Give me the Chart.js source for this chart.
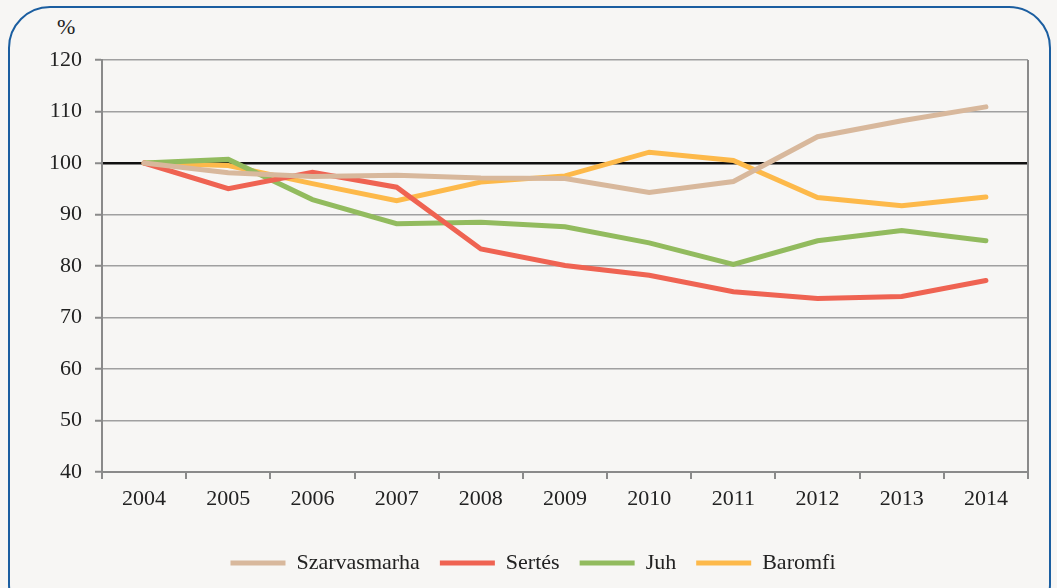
<!DOCTYPE html>
<html>
<head>
<meta charset="utf-8">
<script src="https://cdn.jsdelivr.net/npm/chart.js@4.4.1/dist/chart.umd.min.js"></script>
<style>
  html, body { margin: 0; padding: 0; background: #f7f6f4; }
  body { width: 1057px; height: 588px; position: relative; overflow: hidden; }
  .frame {
    position: absolute; left: 8px; top: 6px; width: 1043px; height: 620px;
    border: 2px solid #1b5ea0; border-radius: 42px; box-sizing: border-box;
  }
  .unit {
    position: absolute; left: 57px; top: 14px;
    font-family: "Liberation Serif", serif; font-size: 22px; color: #222;
  }
  #wrap { position: absolute; left: 0; top: 0; width: 1057px; height: 588px; }
</style>
</head>
<body>
<div class="frame"></div>
<div class="unit">%</div>
<div id="wrap"><canvas id="chart"></canvas></div>
<script>
// ========== DATOS ==========
const years = ["2004", "2005", "2006", "2007", "2008", "2009", "2010", "2011", "2012", "2013", "2014"];
const szarvasmarha = [100, 98.1, 97.4, 97.6, 97.1, 97.0, 94.3, 96.4, 105.1, 108.2, 110.9];
const sertes = [100, 95.0, 98.2, 95.3, 83.3, 80.1, 78.2, 75.0, 73.7, 74.1, 77.2];
const juh = [100, 100.7, 92.9, 88.2, 88.5, 87.6, 84.5, 80.3, 84.9, 86.9, 84.9];
const baromfi = [100, 99.5, 96.0, 92.7, 96.3, 97.5, 102.1, 100.5, 93.3, 91.7, 93.4];

const font = { family: "'Liberation Serif', serif", size: 22 };
const txt = "#222";

const mkLine = (label, data, color) => ({
  label, data,
  borderColor: color,
  backgroundColor: color,
  borderWidth: 5,
  borderCapStyle: "round",
  borderJoinStyle: "miter",
  pointRadius: 0,
  tension: 0
});

// borde derecho del área de trazado
const frameBox = {
  id: "frameBox",
  afterDraw(chart) {
    const { ctx, chartArea: a } = chart;
    ctx.save();
    ctx.strokeStyle = "#8a8a8a";
    ctx.lineWidth = 2;
    ctx.beginPath();
    ctx.moveTo(a.right, a.top);
    ctx.lineTo(a.right, a.bottom);
    ctx.stroke();
    ctx.restore();
  }
};

new Chart(document.getElementById("chart"), {
  type: "line",
  data: {
    labels: years,
    datasets: [
      mkLine("Szarvasmarha", szarvasmarha, "#d8b89c"),
      mkLine("Sertés", sertes, "#ef6352"),
      mkLine("Juh", juh, "#92bb5e"),
      mkLine("Baromfi", baromfi, "#fdb94a")
    ]
  },
  options: {
    responsive: true,
    maintainAspectRatio: false,
    animation: false,
    layout: { padding: { top: 60, right: 29, left: 38, bottom: 4 } },
    plugins: {
      tooltip: { enabled: false },
      legend: {
        position: "bottom",
        labels: {
          font, color: txt,
          boxWidth: 55, boxHeight: 5,
          padding: 20,
          generateLabels: (chart) => chart.data.datasets.map((ds, i) => ({
            text: ds.label,
            fillStyle: ds.borderColor,
            strokeStyle: ds.borderColor,
            lineWidth: 0,
            fontColor: txt,
            hidden: false,
            datasetIndex: i
          }))
        }
      }
    },
    scales: {
      x: {
        offset: true,
        grid: { drawOnChartArea: false, drawTicks: true, tickLength: 7, color: "#8a8a8a", lineWidth: 2, offset: true },
        border: { color: "#8a8a8a", width: 2 },
        ticks: { font, color: txt, padding: 7, maxRotation: 0 },
        afterFit: (s) => { s.height = 60; }
      },
      y: {
        min: 40, max: 120,
        grid: {
          color: (c) => c.tick && c.tick.value === 100 ? "#111" : "#a0a0a0",
          lineWidth: (c) => c.tick && c.tick.value === 100 ? 2.5 : 1.5,
          tickColor: "#8a8a8a",
          tickLength: 7,
          tickWidth: 2
        },
        border: { color: "#8a8a8a", width: 2 },
        ticks: { font, color: txt, stepSize: 10, padding: 13 },
        afterFit: (s) => { s.width = 64; }
      }
    }
  },
  plugins: [frameBox]
});
</script>
</body>
</html>
